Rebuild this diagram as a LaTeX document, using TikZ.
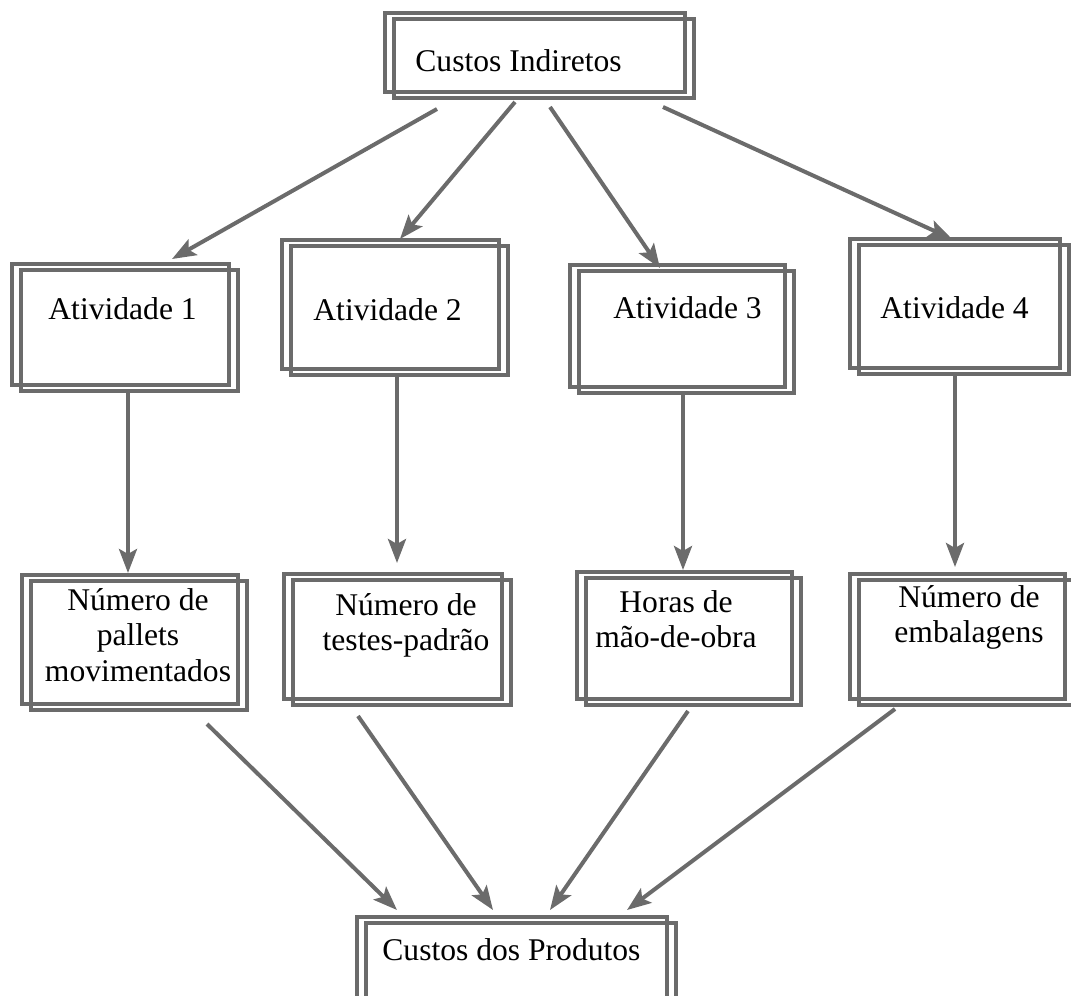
\documentclass[tikz,border=0pt]{standalone}
\usepackage{fontspec}
\setmainfont{Liberation Serif}
\usetikzlibrary{arrows.meta,shadows}

\definecolor{ink}{gray}{0.42}

\begin{document}
\begin{tikzpicture}[x=0.5pt,y=-0.5pt,
  frame/.style={draw=ink, line width=2pt, inner sep=0pt, anchor=north west,
    copy shadow={draw=ink, fill=none, line width=2pt,
                 shadow xshift=4.5pt, shadow yshift=-3pt}},
  label/.style={font=\fontsize{15.8}{17.75}\selectfont, inner sep=0pt},
  arrow/.style={draw=ink, line width=2pt,
    -{Stealth[length=12pt,width=9pt,inset=2.5pt]}}]

\path[use as bounding box, clip] (0,0) rectangle (1071,996);

% boxes
\node[frame, minimum width=150pt,   minimum height=39.5pt] (T)  at (383,11)  {};
\node[frame, minimum width=108.5pt, minimum height=60.5pt] (A1) at (10,262)  {};
\node[frame, minimum width=108.5pt, minimum height=64.5pt] (A2) at (280,238) {};
\node[frame, minimum width=107.5pt, minimum height=61pt]   (A3) at (568,263) {};
\node[frame, minimum width=105pt,   minimum height=64.5pt] (A4) at (848,237) {};
\node[frame, minimum width=108pt,   minimum height=64.5pt] (B1) at (20,573)  {};
\node[frame, minimum width=109pt,   minimum height=62.5pt] (B2) at (282,572) {};
\node[frame, minimum width=107.5pt, minimum height=63.5pt] (B3) at (575,570) {};
\node[frame, minimum width=107.5pt, minimum height=62.5pt] (B4) at (848,572) {};
\node[frame, minimum width=155pt,   minimum height=47.5pt] (P)  at (355,915) {};

% texts
\node[label, anchor=base west] (tT)  at (415,71)  {Custos Indiretos};
\node[label, anchor=base west] (tA1) at (48,319)  {Atividade 1};
\node[label, anchor=base west] (tA2) at (313,320) {Atividade 2};
\node[label, anchor=base west] (tA3) at (613,318) {Atividade 3};
\node[label, anchor=base west] (tA4) at (880,318) {Atividade 4};
\node[label, align=center] (tB1) at (138,635)   {Número de\\pallets\\movimentados};
\node[label, align=center] (tB2) at (406,625.5) {Número de\\testes-padrão};
\node[label, align=center] (tB3) at (676,619)   {Horas de\\mão-de-obra};
\node[label, align=center] (tB4) at (969,617.5) {Número de\\embalagens};
\node[label, anchor=base west] (tP) at (382,960) {Custos dos Produtos};

% top box to the activities
\draw[arrow] ([shift={(54,15)}]T.south west)  -- ([shift={(162,-3)}]A1.north west);
\draw[arrow] ([shift={(132,8)}]T.south west)  -- ([shift={(120,1)}]A2.north west);
\draw[arrow] ([shift={(167,13)}]T.south west) -- ([shift={(92,5)}]A3.north west);
\draw[arrow] ([shift={(280,13)}]T.south west) -- ([shift={(104,2)}]A4.north west);

% activities to their drivers
\draw[arrow] ([shift={(118,5)}]A1.south west) -- ([shift={(108,0)}]B1.north west);
\draw[arrow] ([shift={(117,6)}]A2.south west) -- ([shift={(115,-9)}]B2.north west);
\draw[arrow] ([shift={(115,5)}]A3.south west) -- ([shift={(108,0)}]B3.north west);
\draw[arrow] ([shift={(107,6)}]A4.south west) -- ([shift={(107,-5)}]B4.north west);

% drivers to product costs
\draw[arrow] ([shift={(187,18)}]B1.south west) -- ([shift={(42,-5)}]P.north west);
\draw[arrow] ([shift={(76,15)}]B2.south west)  -- ([shift={(138,-5)}]P.north west);
\draw[arrow] ([shift={(113,10)}]B3.south west) -- ([shift={(195,-5)}]P.north west);
\draw[arrow] ([shift={(47,8)}]B4.south west)   -- ([shift={(272,-5)}]P.north west);

\end{tikzpicture}
\end{document}
